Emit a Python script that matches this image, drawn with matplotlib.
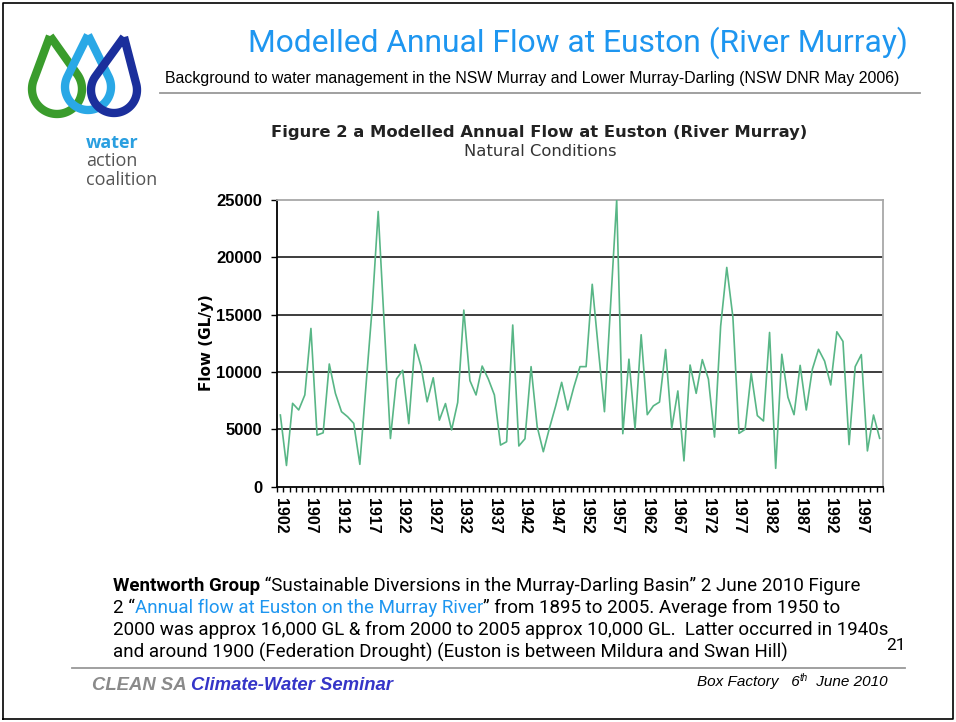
import numpy as np
import matplotlib
matplotlib.use('Agg')
import matplotlib.pyplot as plt
from matplotlib import font_manager

# ---------------- data ----------------
years = list(range(1902, 2001))
flow = [6250, 1850, 7270, 6690, 8000, 13800, 4500, 4700, 10700, 8140,
        6540, 6100, 5520, 1950, 8800, 15500, 24000, 14000, 4200, 9400,
        10150, 5500, 12400, 10500, 7400, 9500, 5800, 7250, 4950, 7350,
        15400, 9250, 8000, 10520, 9400, 8000, 3630, 3920, 14100, 3550,
        4180, 10470, 5230, 3050, 5100, 7000, 9100, 6690, 8700, 10470,
        10470, 17650, 12000, 6540, 15800, 25000, 4620, 11120, 5050, 13250,
        6280, 7050, 7380, 11960, 5090, 8350, 2250, 10610, 8140, 11080,
        9380, 4330, 14000, 19120, 14800, 4650, 5000, 9880, 6200, 5730,
        13450, 1600, 11550, 7800, 6280, 10580, 6690, 10250, 11980, 10950,
        8870, 13510, 12670, 3670, 10470, 11520, 3120, 6250, 4220]
x_label_years = list(range(1902, 1998, 5))
y_ticks = [0, 5000, 10000, 15000, 20000, 25000]

title = "Modelled Annual Flow at Euston (River Murray)"
subtitle = "Background to water management in the NSW Murray and Lower Murray-Darling (NSW DNR May 2006)"
chart_title = "Figure 2 a Modelled Annual Flow at Euston (River Murray)"
chart_sub = "Natural Conditions"
ylabel = "Flow (GL/y)"

available = {f.name for f in font_manager.fontManager.ttflist}
if 'Liberation Sans Narrow' in available:
    sub_font, sub_fs = 'Liberation Sans Narrow', 13.6
else:
    sub_font, sub_fs = 'Liberation Sans', 11.4

W, H = 956, 722
fig = plt.figure(figsize=(W / 100, H / 100), dpi=100)
fig.patch.set_facecolor('white')

# overlay axes in pixel coordinates
bg = fig.add_axes([0, 0, 1, 1])
bg.set_xlim(0, W)
bg.set_ylim(H, 0)
bg.axis('off')

# slide border
bg.plot([3, 3, W - 3, W - 3, 3], [H - 3, 3, 3, H - 3, H - 3], color='black', lw=1.2)


def drop(tip, c, r, color, lw):
    tx, ty = tip
    cx, cy = c
    dx, dy = tx - cx, ty - cy
    d = np.hypot(dx, dy)
    a0 = np.arctan2(dy, dx)
    al = np.arccos(r / d)
    th = np.linspace(a0 + al, a0 - al + 2 * np.pi, 80)
    xs = [tx] + list(cx + r * np.cos(th)) + [tx]
    ys = [ty] + list(cy + r * np.sin(th)) + [ty]
    bg.plot(xs, ys, color=color, lw=lw, solid_joinstyle='miter', solid_capstyle='butt')


drop((50, 36), (57, 89), 25, '#3a9c2c', 6)
drop((88, 35), (88, 87), 23, '#2aa8e6', 6)
drop((124, 37), (114, 90), 23, '#1b2f9c', 6)

bg.text(86, 143, "water", color='#2a9fe0', fontsize=13, fontweight='bold',
        family='Open Sans', va='center', ha='left')
bg.text(86, 161, "action", color='#555555', fontsize=13,
        family='Open Sans', va='center', ha='left')
bg.text(86, 180, "coalition", color='#555555', fontsize=13,
        family='Open Sans', va='center', ha='left')

# titles
bg.text(578, 43, title, color='#1e96f0', fontsize=22.9, family='Roboto',
        ha='center', va='center')
bg.text(532, 79, subtitle, color='black', fontsize=sub_fs, family=sub_font,
        ha='center', va='center')
bg.plot([160, 920], [93, 93], color='#999999', lw=1.3)

bg.text(539, 132, chart_title, color='#222222', fontsize=11.8, fontweight='bold',
        family='DejaVu Sans', ha='center', va='center')
bg.text(540, 151, chart_sub, color='#333333', fontsize=11.8,
        family='DejaVu Sans', ha='center', va='center')
bg.text(207, 343, ylabel, color='black', fontsize=11, fontweight='bold',
        family='DejaVu Sans', ha='center', va='center', rotation=90)

# ---------------- chart ----------------
L, R, T, B = 277.3, 882.7, 200.0, 486.7
ax = fig.add_axes([L / W, 1 - B / H, (R - L) / W, (B - T) / H])
ax.set_facecolor('none')
ax.plot(years, flow, color='#58b686', lw=1.2, zorder=3)
ax.set_xlim(years[0] - 0.5, years[-1] + 0.5)
ax.set_ylim(0, 25000)
for v in y_ticks[1:-1]:
    ax.axhline(v, color='#3c3c3c', lw=1.4, zorder=2)

ax.set_yticks(y_ticks)
ax.set_yticklabels([str(v) for v in y_ticks], fontsize=12, fontweight='bold',
                   family='Liberation Sans')
ax.tick_params(axis='y', direction='out', length=4, width=1, pad=7, colors='black')

ax.set_xticks(x_label_years)
ax.set_xticklabels([str(v) for v in x_label_years], rotation=270, fontsize=11.5,
                   fontweight='bold', family='Liberation Sans')
ax.set_xticks(np.arange(years[0] - 0.5, years[-1] + 1, 1.0), minor=True)
ax.tick_params(axis='x', which='major', length=0, pad=8)
ax.tick_params(axis='x', which='minor', direction='out', length=3.5, width=1)
for s in ['left', 'bottom']:
    ax.spines[s].set_color('black')
    ax.spines[s].set_linewidth(1.3)
for s in ['top', 'right']:
    ax.spines[s].set_color('#a8a8a8')
    ax.spines[s].set_linewidth(1.3)


# ---------------- bottom text ----------------
def rich(x, y, segs, fs):
    t = None
    for s, kw in segs:
        if t is None:
            t = bg.text(x, y, s, fontsize=fs, va='center', ha='left', **kw)
        else:
            t = bg.annotate(s, xy=(1, 0), xycoords=t, va='bottom', ha='left',
                            fontsize=fs, **kw)
    return t


fam = 'Roboto'
fs = 13.5
rich(113, 586, [("Wentworth Group", dict(family=fam, fontweight='bold', color='black')),
                (" \u201cSustainable Diversions in the Murray-Darling Basin\u201d 2 June 2010 Figure",
                 dict(family=fam, color='black'))], fs)
rich(113, 608, [("2 \u201c", dict(family=fam, color='black')),
                ("Annual flow at Euston on the Murray River", dict(family=fam, color='#1e96f0')),
                ("\u201d from 1895 to 2005. Average from 1950 to", dict(family=fam, color='black'))], fs)
rich(113, 630, [("2000 was approx 16,000 GL & from 2000 to 2005 approx 10,000 GL.  Latter occurred in 1940s",
                 dict(family=fam, color='black'))], fs)
rich(113, 652, [("and around 1900 (Federation Drought) (Euston is between Mildura and Swan Hill)",
                 dict(family=fam, color='black'))], fs)
bg.text(896, 646, "21", fontsize=12.5, family=fam, color='black', ha='center', va='center')

bg.plot([72, 905], [668, 668], color='#999999', lw=1.3)

rich(92, 685, [("CLEAN SA ", dict(family='Liberation Sans', fontweight='bold', style='italic', color='#8a8a8a')),
               ("Climate-Water Seminar", dict(family='Liberation Sans', fontweight='bold', style='italic', color='#3535c8'))], 13.3)

t = bg.text(697, 682, "Box Factory   6", fontsize=11, family='Liberation Sans', style='italic',
            color='black', ha='left', va='center')
t2 = bg.annotate("th", xy=(1, 0.45), xycoords=t, va='bottom', ha='left', fontsize=7,
                 family='Liberation Sans', style='italic', color='black')
bg.annotate(" June 2010", xy=(1, 0), xycoords=t, xytext=(9, 0),
            textcoords='offset points', va='bottom', ha='left', fontsize=11,
            family='Liberation Sans', style='italic', color='black')

fig.savefig('out.png', dpi=100, facecolor='white')
